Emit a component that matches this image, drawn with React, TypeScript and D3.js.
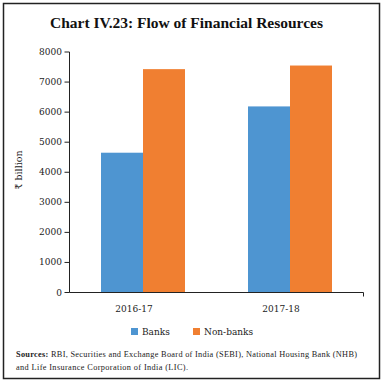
import React from "react";
import * as d3 from "d3";

const categories = ["2016-17", "2017-18"];
const seriesNames = ["Banks", "Non-banks"];
const banks = [4650, 6190];
const nonBanks = [7430, 7550];
const yTicks = [0, 1000, 2000, 3000, 4000, 5000, 6000, 7000, 8000];
const colors = ["#4e95d1", "#f07f31"];

const FONT = "'DejaVu Serif', 'Liberation Serif', serif";
const TFONT = "'Liberation Serif', serif";

export default function App() {
  const W = 384, H = 383;
  const left = 69.5, right = 363.5, top = 52, bottom = 292.5;
  const x = d3.scaleBand<string>().domain(categories).range([left, right]).paddingInner(0).paddingOuter(0);
  const inner = d3.scaleBand<string>().domain(seriesNames).range([0, x.bandwidth()]).paddingInner(0).paddingOuter(0.75);
  const y = d3.scaleLinear().domain([0, 8000]).range([bottom, top]);
  const data = [banks, nonBanks];

  return (
    <svg width={W} height={H} style={{ position: "absolute", left: 0, top: 0, background: "#fff" }}>
      <rect x={0} y={0} width={W} height={H} fill="#fff" />
      <rect x={3.5} y={3.5} width={376} height={375} fill="none" stroke="#222" strokeWidth={1.5} />
      <text x={50} y={28} textLength={273} lengthAdjust="spacing" fontFamily={TFONT} fontWeight="bold" fontSize={15.5} fill="#111">
        Chart IV.23: Flow of Financial Resources
      </text>
      {/* bars */}
      {categories.map((c, i) =>
        seriesNames.map((s, j) => (
          <rect
            key={c + s}
            x={(x(c) ?? 0) + (inner(s) ?? 0)}
            y={y(data[j][i])}
            width={inner.bandwidth()}
            height={y(0) - y(data[j][i])}
            fill={colors[j]}
          />
        ))
      )}
      {/* y axis */}
      <line x1={left} x2={left} y1={top} y2={bottom} stroke="#222" strokeWidth={1} />
      {yTicks.map((t) => (
        <g key={t}>
          <line x1={left - 5} x2={left} y1={y(t)} y2={y(t)} stroke="#222" strokeWidth={1} />
          <text x={62} y={y(t) + 3} textAnchor="end" fontFamily={FONT} fontSize={9} fill="#222">
            {t}
          </text>
        </g>
      ))}
      {/* x axis */}
      <line x1={left} x2={right} y1={bottom} y2={bottom} stroke="#222" strokeWidth={1} />
      <line x1={right} x2={right} y1={bottom} y2={bottom + 4} stroke="#222" strokeWidth={1} />
      {categories.map((c) => (
        <text key={c} x={(x(c) ?? 0) + x.bandwidth() / 2 - 9} y={312} textAnchor="middle" fontFamily={FONT} fontSize={9} fill="#222">
          {c}
        </text>
      ))}
      <text transform="translate(22,170) rotate(-90)" textAnchor="middle" fontFamily={FONT} fontSize={9.5} fill="#222">
        ₹ billion
      </text>
      {/* legend */}
      {seriesNames.map((s, j) => {
        const lx = [131, 193][j];
        return (
          <g key={s}>
            <rect x={lx} y={328} width={7} height={7} fill={colors[j]} />
            <text x={lx + 11} y={335} fontFamily={FONT} fontSize={9} fill="#222">
              {s}
            </text>
          </g>
        );
      })}
      {/* sources */}
      <text x={16} y={357} textLength={341} lengthAdjust="spacing" fontFamily={TFONT} fontSize={8.3} fill="#222">
        <tspan fontWeight="bold">Sources:</tspan> RBI, Securities and Exchange Board of India (SEBI), National Housing Bank (NHB)
      </text>
      <text x={16} y={370} textLength={172} lengthAdjust="spacing" fontFamily={TFONT} fontSize={8.3} fill="#222">
        and Life Insurance Corporation of India (LIC).
      </text>
    </svg>
  );
}
